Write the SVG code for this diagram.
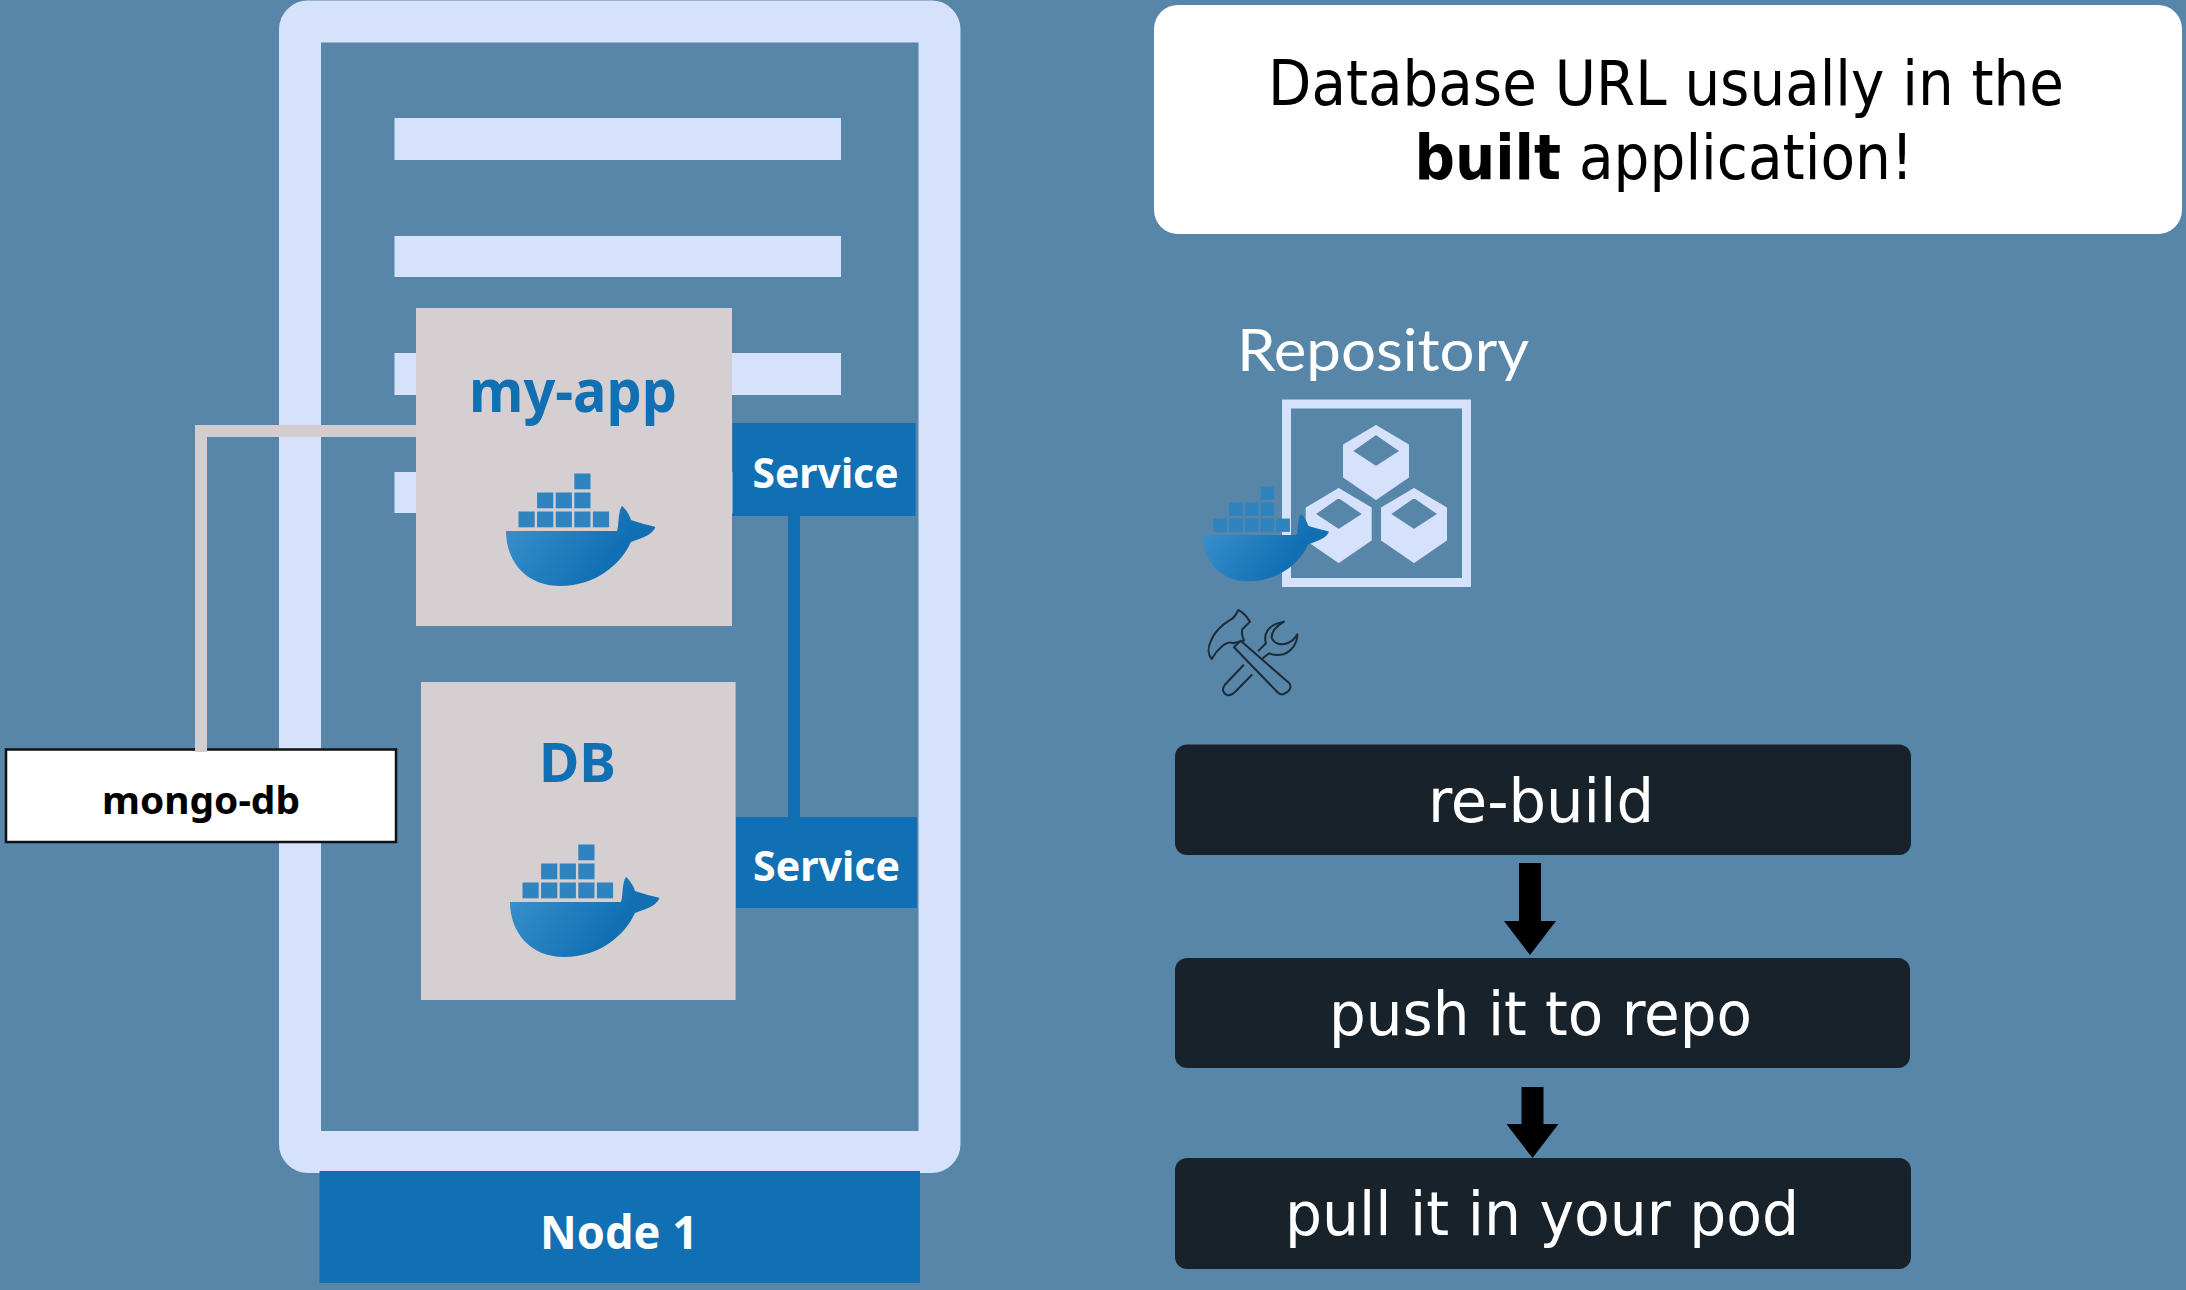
<svg xmlns="http://www.w3.org/2000/svg" xmlns:xlink="http://www.w3.org/1999/xlink" width="2186" height="1290" viewBox="0 0 2186 1290">
<style>
.bar{fill:#d6e1fb}
.pod{fill:#d5cfd1}
.blue{fill:#1170b3}
.hand{font-family:"Noto Sans","Open Sans",sans-serif;font-weight:700;text-anchor:start}
.step{fill:#18222b}
.stept{font-family:"DejaVu Sans","Noto Sans",sans-serif;font-stretch:condensed;font-size:60px;fill:#fff}
.head{font-family:"DejaVu Sans","Noto Sans",sans-serif;font-stretch:condensed;font-size:62px;fill:#000}
.cn{fill:#2f83bf}
</style>
<defs>
<linearGradient id="hull" x1="0" y1="0.2" x2="1" y2="0.6"><stop offset="0" stop-color="#3b90cc"/><stop offset="0.75" stop-color="#1170b3"/></linearGradient>
<marker id="ah" viewBox="0 0 34 52" markerUnits="userSpaceOnUse" markerWidth="34" markerHeight="52" refX="0" refY="26" orient="auto"><path d="M0,0L34,26L0,52Z" fill="#000"/></marker>
<g id="whale">
<path fill="url(#hull)" d="M0,0L111,0C113,-6 112,-20 116,-25C120,-22 124,-15 125,-11C133,-8 143,-6 149.500,-4C146,4 138,6 125,11C115,33 90,55 54,55C20,55 0,30 0,0Z"/>
<rect class="cn" x="68.300" y="-57.500" width="16.200" height="15.800"/>
<rect class="cn" x="31.100" y="-38.500" width="16.200" height="15.800"/>
<rect class="cn" x="49.700" y="-38.500" width="16.200" height="15.800"/>
<rect class="cn" x="68.300" y="-38.500" width="16.200" height="15.800"/>
<rect class="cn" x="12.500" y="-19.500" width="16.200" height="15.800"/>
<rect class="cn" x="31.100" y="-19.500" width="16.200" height="15.800"/>
<rect class="cn" x="49.700" y="-19.500" width="16.200" height="15.800"/>
<rect class="cn" x="68.300" y="-19.500" width="16.200" height="15.800"/>
<rect class="cn" x="86.900" y="-19.500" width="16.200" height="15.800"/>
</g>
<g id="cube" fill="#d6e1fb" stroke="#d6e1fb" stroke-width="2" stroke-linejoin="round">
<path fill-rule="evenodd" d="M0,1L32,20V52L0,74L-32,52V20ZM0,9L-24.300,26L0,42L24.700,26Z"/>
</g>
</defs>
<rect id="background" width="2186" height="1290" fill="#5786a9"/>

<g id="node-frame">
<rect x="300" y="21.500" width="639.500" height="1130.500" rx="8" fill="none" stroke="#d6e1fb" stroke-width="42"/>
<rect class="bar" x="394.500" y="118" width="446.500" height="42"/>
<rect class="bar" x="394.500" y="236" width="446.500" height="41"/>
<rect class="bar" x="394.500" y="353" width="446.500" height="42"/>
<rect class="bar" x="394.500" y="472" width="446.500" height="41"/>
</g>

<g id="node-1">
<rect class="blue" x="319.500" y="1171" width="600.500" height="112"/>
<text class="hand" x="540" y="1249" font-size="46" fill="#fff" textLength="158" lengthAdjust="spacingAndGlyphs">Node 1</text>
</g>

<g id="my-app">
<rect class="pod" x="416" y="308" width="316" height="318"/>
<text class="hand" x="469" y="412" font-size="60" fill="#1170b3" textLength="208" lengthAdjust="spacingAndGlyphs">my-app</text>
<use xlink:href="#whale" href="#whale" x="506" y="531"/>
</g>

<g id="db">
<rect class="pod" x="421" y="682" width="314.600" height="318"/>
<text class="hand" x="539" y="782" font-size="54" fill="#1170b3" textLength="77" lengthAdjust="spacingAndGlyphs">DB</text>
<use xlink:href="#whale" href="#whale" x="510" y="902"/>
</g>

<g id="service-1">
<rect class="blue" x="732.500" y="423" width="183" height="93"/>
<text class="hand" x="752.500" y="488" font-size="42" fill="#fff" textLength="146" lengthAdjust="spacingAndGlyphs">Service</text>
</g>

<g id="service-2">
<rect class="blue" x="736" y="817" width="181" height="91"/>
<text class="hand" x="753" y="881" font-size="42" fill="#fff" textLength="147" lengthAdjust="spacingAndGlyphs">Service</text>
</g>

<g id="mongo-db">
<rect x="6" y="749.500" width="390" height="92.500" fill="#fff" stroke="#111" stroke-width="2.500"/>
<text class="hand" x="102" y="813.500" font-size="38" fill="#000" textLength="198" lengthAdjust="spacingAndGlyphs">mongo-db</text>
</g>

<g id="callout">
<rect x="1154" y="5" width="1028" height="229" rx="24" fill="#fff"/>
<text class="head" x="1268" y="105" textLength="796" lengthAdjust="spacingAndGlyphs">Database URL usually in the</text>
<text class="head" x="1414.500" y="179" textLength="499" lengthAdjust="spacingAndGlyphs"><tspan font-weight="700">built</tspan> application!</text>
</g>

<g id="repository">
<text x="1237" y="371" font-family="Lato,'Noto Sans',sans-serif" font-size="58" fill="#fff" textLength="292" lengthAdjust="spacingAndGlyphs">Repository</text>
<rect x="1286.500" y="404" width="180" height="178.500" fill="none" stroke="#d6e1fb" stroke-width="9"/>
<use xlink:href="#cube" href="#cube" x="1376" y="425"/>
<use xlink:href="#cube" href="#cube" x="1338.700" y="488"/>
<use xlink:href="#cube" href="#cube" x="1414" y="488"/>
<use xlink:href="#whale" href="#whale" transform="translate(1203 535) scale(.843)"/>
</g>

<g id="build-tools" transform="translate(1180 300) scale(.3333)" fill="none" stroke="#1c2b36" stroke-width="6" stroke-linejoin="round" stroke-linecap="round">
<path d="M175,930C185,935 200,950 210,965L187,988C183,1000 188,1012 192,1022L160,1030C140,1020 110,1050 95,1077C85,1065 82,1045 92,1025C100,1000 125,975 147,962C160,957 168,945 175,930Z"/>
<path d="M162,1042L182,1022L328,1150C335,1160 330,1170 322,1176L312,1182C305,1186 298,1182 292,1176Z"/>
<path d="M190,1096L134,1155C125,1168 128,1178 140,1185C150,1188 158,1184 165,1176L215,1125"/>
<path d="M236,1052L258,1030C250,1005 260,975 312,965C295,975 275,990 275,1012C280,1030 300,1038 322,1030C335,1025 345,1015 352,1003C352,1030 335,1055 310,1063C295,1067 280,1065 268,1060L248,1075"/>
</g>

<g id="re-build">
<rect class="step" x="1175" y="744.500" width="736" height="110.500" rx="12"/>
<text class="stept" x="1428" y="822" textLength="226" lengthAdjust="spacingAndGlyphs">re-build</text>
</g>
<g id="push-it-to-repo">
<rect class="step" x="1175" y="958" width="735" height="110" rx="12"/>
<text class="stept" x="1329" y="1035" textLength="423" lengthAdjust="spacingAndGlyphs">push it to repo</text>
</g>
<g id="pull-it-in-your-pod">
<rect class="step" x="1175" y="1158" width="736" height="111" rx="12"/>
<text class="stept" x="1285" y="1235" textLength="514" lengthAdjust="spacingAndGlyphs">pull it in your pod</text>
</g>

<g id="connectors" fill="none">
<polyline points="201,752 201,431 416,431" stroke="#d3cdcf" stroke-width="12"/>
<line x1="794" y1="516" x2="794" y2="817" stroke="#1170b3" stroke-width="12"/>
<line x1="1530" y1="863" x2="1530" y2="921" stroke="#000" stroke-width="22" marker-end="url(#ah)"/>
<line x1="1532.500" y1="1087" x2="1532.500" y2="1124" stroke="#000" stroke-width="22" marker-end="url(#ah)"/>
</g>
</svg>
